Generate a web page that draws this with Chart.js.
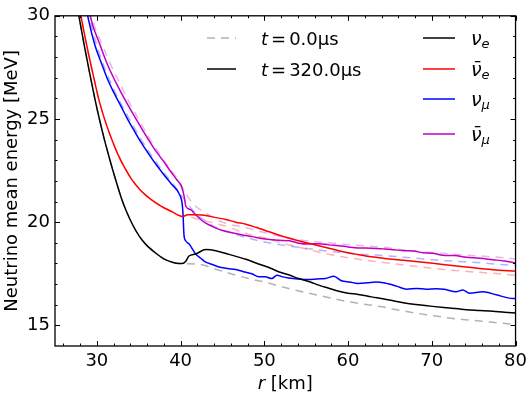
<!DOCTYPE html>
<html>
<head>
<meta charset="utf-8">
<script src="https://cdn.jsdelivr.net/npm/chart.js@4.4.1/dist/chart.umd.min.js"></script>
<style>
  html, body { margin: 0; padding: 0; background: #fff; }
</style>
</head>
<body>
<canvas id="chart" width="532" height="399"></canvas>
<script>
// radius r [km] and neutrino mean energy [MeV]
// t = 320.0 us (solid)
const rNueLate = [27.4, 27.85, 28.5, 29.2, 29.75, 30.3, 30.9, 31.5, 32.1, 32.9, 33.5, 34.3, 35.1, 35.9, 37.1, 38.0, 39.0, 39.85, 40.2, 40.6, 41.0, 41.8, 43.0, 44.2, 45.8, 47.8, 49.5, 50.7, 51.7, 52.9, 54.1, 55.5, 56.5, 57.7, 58.9, 60.0, 61.2, 62.8, 64.3, 65.5, 66.6, 68.4, 70.1, 72.1, 74.1, 75.7, 77.3, 78.7, 80];
const eNueLate = [31.0, 30.0, 28.55, 27.1, 26.0, 25.0, 24.0, 23.1, 22.25, 21.2, 20.55, 19.85, 19.3, 18.9, 18.48, 18.22, 18.06, 18.0, 18.0, 18.1, 18.36, 18.46, 18.67, 18.62, 18.44, 18.2, 17.95, 17.78, 17.6, 17.45, 17.27, 17.1, 16.95, 16.8, 16.65, 16.56, 16.5, 16.38, 16.28, 16.18, 16.1, 16.0, 15.92, 15.84, 15.76, 15.72, 15.68, 15.63, 15.6];

const rNuebLate = [27.7, 28.1, 28.8, 29.55, 30.2, 30.94, 31.6, 32.5, 33.3, 34.2, 35.1, 36.0, 37.0, 38.0, 39.0, 39.85, 40.24, 40.84, 41.5, 42.8, 44.2, 45.4, 46.6, 47.8, 49.0, 50.1, 51.7, 53.0, 54.1, 55.3, 56.5, 57.7, 58.9, 60.0, 61.2, 62.8, 64.4, 66.6, 68.95, 71.3, 74.1, 77.3, 80];
const eNuebLate = [31.0, 30.0, 28.55, 27.15, 26.0, 24.97, 24.2, 23.3, 22.65, 22.05, 21.6, 21.25, 20.95, 20.7, 20.5, 20.32, 20.27, 20.36, 20.36, 20.34, 20.22, 20.13, 20.0, 19.9, 19.75, 19.6, 19.38, 19.22, 19.1, 18.98, 18.86, 18.74, 18.62, 18.52, 18.43, 18.32, 18.24, 18.16, 18.06, 17.95, 17.83, 17.7, 17.63];

const rNumuLate = [28.5, 28.9, 29.75, 30.5, 31.2, 32.0, 32.9, 33.7, 34.5, 35.3, 36.2, 37.1, 38.0, 38.9, 39.85, 40.2, 40.3, 40.4, 40.6, 41.0, 41.8, 42.4, 43.0, 43.8, 44.6, 45.6, 46.6, 47.5, 48.5, 49.35, 50.1, 50.9, 51.5, 52.2, 52.9, 54.0, 55.3, 56.3, 57.3, 58.3, 59.2, 60.2, 61.2, 62.3, 63.3, 64.4, 65.8, 67.0, 68.2, 69.35, 70.5, 71.5, 72.9, 73.7, 74.5, 76.1, 77.7, 79.25, 80];
const eNumuLate = [30.9, 30.0, 28.6, 27.75, 27.0, 26.3, 25.6, 24.97, 24.4, 23.85, 23.3, 22.78, 22.3, 21.85, 21.35, 20.85, 20.3, 19.4, 19.1, 18.95, 18.46, 18.25, 18.06, 17.95, 17.83, 17.75, 17.71, 17.6, 17.5, 17.35, 17.35, 17.27, 17.43, 17.35, 17.3, 17.25, 17.22, 17.25, 17.27, 17.38, 17.16, 17.1, 17.03, 17.06, 17.1, 17.05, 16.9, 16.75, 16.79, 16.75, 16.78, 16.75, 16.63, 16.71, 16.56, 16.63, 16.48, 16.32, 16.3];

const rNumubLate = [28.8, 29.2, 30.35, 31.3, 32.3, 33.4, 34.5, 35.7, 36.88, 37.9, 38.86, 39.5, 40.13, 40.4, 40.64, 41.24, 41.6, 42.4, 43.0, 44.0, 45.0, 46.0, 47.0, 48.5, 50.1, 51.7, 53.0, 54.1, 55.3, 56.5, 57.7, 58.9, 60.0, 61.2, 62.8, 64.4, 65.5, 66.6, 67.8, 68.95, 70.1, 71.3, 72.7, 74.1, 75.7, 77.3, 78.7, 80];
const eNumubLate = [31.0, 30.0, 28.62, 27.6, 26.75, 25.9, 25.13, 24.3, 23.54, 22.98, 22.43, 22.08, 21.71, 21.3, 20.76, 20.6, 20.44, 20.13, 19.95, 19.75, 19.6, 19.5, 19.41, 19.3, 19.18, 19.12, 19.1, 18.98, 18.94, 18.96, 18.9, 18.86, 18.8, 18.75, 18.74, 18.7, 18.66, 18.62, 18.6, 18.52, 18.5, 18.4, 18.38, 18.3, 18.25, 18.18, 18.12, 18.02];

// t = 0.0 us (dashed, faded)
const rNueEarly = [27.4, 27.85, 28.5, 29.2, 29.75, 30.3, 30.9, 31.5, 32.1, 32.9, 33.5, 34.3, 35.1, 35.9, 37.1, 38.0, 39.0, 39.85, 42.0, 44.0, 46.0, 48.0, 50.0, 52.0, 54.0, 56.0, 58.0, 60.0, 62.0, 64.0, 66.0, 68.0, 70.0, 72.0, 74.0, 76.0, 78.0, 80.0];
const eNueEarly = [31.0, 30.0, 28.55, 27.1, 26.0, 25.0, 24.0, 23.1, 22.25, 21.2, 20.55, 19.85, 19.3, 18.9, 18.48, 18.22, 18.06, 18.0, 17.97, 17.75, 17.5, 17.28, 17.1, 16.88, 16.68, 16.5, 16.32, 16.15, 16.02, 15.9, 15.74, 15.6, 15.48, 15.36, 15.27, 15.2, 15.12, 15.05];

const rNuebEarly = [27.7, 28.1, 28.8, 29.55, 30.2, 30.94, 31.6, 32.5, 33.3, 34.2, 35.1, 36.0, 37.0, 38.0, 39.0, 39.85, 41.0, 42.0, 43.0, 44.2, 45.4, 46.8, 48.2, 50.0, 52.0, 54.0, 56.0, 58.0, 60.0, 62.0, 64.0, 66.0, 68.0, 70.0, 72.0, 74.0, 76.0, 78.0, 80.0];
const eNuebEarly = [31.0, 30.0, 28.55, 27.15, 26.0, 24.97, 24.2, 23.3, 22.65, 22.05, 21.6, 21.25, 20.95, 20.7, 20.5, 20.32, 20.26, 20.15, 20.05, 19.93, 19.81, 19.6, 19.41, 19.25, 19.0, 18.8, 18.6, 18.42, 18.28, 18.16, 18.06, 17.96, 17.86, 17.77, 17.68, 17.62, 17.56, 17.5, 17.43];

const rNumuEarly = [28.7, 29.1, 30.0, 31.0, 32.0, 33.0, 34.0, 35.0, 36.0, 37.0, 38.0, 39.0, 40.0, 41.0, 42.0, 43.0, 44.0, 45.4, 47.0, 49.35, 52.0, 54.1, 56.5, 58.9, 61.5, 64.4, 66.6, 69.0, 71.3, 74.0, 76.1, 78.0, 80];
const eNumuEarly = [31.0, 30.0, 28.55, 27.4, 26.45, 25.65, 24.92, 24.2, 23.55, 22.95, 22.4, 21.9, 21.35, 20.8, 20.35, 20.05, 19.8, 19.57, 19.35, 19.1, 18.9, 18.78, 18.65, 18.54, 18.45, 18.38, 18.3, 18.22, 18.14, 18.08, 18.02, 17.96, 17.9];

const rNumubEarly = [29.0, 29.4, 30.7, 31.7, 32.7, 33.8, 34.9, 36.3, 37.5, 38.7, 39.85, 40.6, 41.6, 43.0, 45.0, 47.8, 50.1, 53.3, 57.3, 61.0, 64.4, 65.8, 68.5, 72.1, 76.9, 80];
const eNumubEarly = [31.0, 30.0, 28.54, 27.6, 26.75, 25.85, 25.05, 24.05, 23.3, 22.6, 21.95, 21.4, 20.85, 20.45, 20.0, 19.73, 19.49, 19.2, 19.01, 18.88, 18.78, 18.7, 18.58, 18.46, 18.33, 18.22];

// ticks
const xMajor = [30, 40, 50, 60, 70, 80];
const xMinor = [26, 28, 32, 34, 36, 38, 42, 44, 46, 48, 52, 54, 56, 58, 62, 64, 66, 68, 72, 74, 76, 78];
const yMajor = [15, 20, 25, 30];
const yMinor = [16, 17, 18, 19, 21, 22, 23, 24, 26, 27, 28, 29];

const FONT = '"DejaVu Sans", sans-serif';

const zip = (r, e) => r.map((v, i) => ({x: v, y: e[i]}));
const line = (r, e, color, dashed) => ({
  data: zip(r, e),
  borderColor: color,
  borderWidth: 1.5,
  borderDash: dashed ? [8, 6] : [],
  pointRadius: 0,
  fill: false,
  cubicInterpolationMode: 'monotone'
});

// write pieces of text one after another (italic, subscripts)
function textRun(ctx, x, y, parts) {
  parts.forEach(p => {
    ctx.font = (p.i ? 'italic ' : '') + (p.s || 18) + 'px ' + FONT;
    x += p.gap || 0;
    ctx.fillText(p.t, x, y + (p.dy || 0));
    x += ctx.measureText(p.t).width;
  });
}

const decor = {
  id: 'decor',
  afterDatasetsDraw(chart) {
    const {ctx, chartArea: a, scales: {x, y}} = chart;
    ctx.save();
    ctx.strokeStyle = '#000';
    ctx.lineWidth = 1;
    ctx.beginPath();
    const tx = (v, len) => {
      const p = Math.round(x.getPixelForValue(v)) + 0.5;
      ctx.moveTo(p, a.bottom); ctx.lineTo(p, a.bottom - len);
      ctx.moveTo(p, a.top); ctx.lineTo(p, a.top + len);
    };
    const ty = (v, len) => {
      const p = Math.round(y.getPixelForValue(v)) + 0.5;
      ctx.moveTo(a.left, p); ctx.lineTo(a.left + len, p);
      ctx.moveTo(a.right, p); ctx.lineTo(a.right - len, p);
    };
    xMinor.forEach(v => tx(v, 2.5));
    xMajor.forEach(v => tx(v, 5));
    yMinor.forEach(v => ty(v, 2.5));
    yMajor.forEach(v => ty(v, 5));
    ctx.stroke();
    ctx.lineWidth = 1.3;
    ctx.strokeRect(a.left, a.top, a.right - a.left, a.bottom - a.top);
    ctx.restore();
  },
  afterDraw(chart) {
    const {ctx, chartArea: a} = chart;
    ctx.save();
    ctx.fillStyle = '#000';
    ctx.textBaseline = 'alphabetic';

    // axis titles
    ctx.font = '18px ' + FONT;
    ctx.textAlign = 'center';
    ctx.save();
    ctx.translate(17, (a.top + a.bottom) / 2);
    ctx.rotate(-Math.PI / 2);
    ctx.fillText('Neutrino mean energy [MeV]', 0, 0);
    ctx.restore();
    ctx.textAlign = 'left';
    ctx.font = '18px ' + FONT;
    const wr = ctx.measureText(' [km]').width;
    ctx.font = 'italic 18px ' + FONT;
    const wi = ctx.measureText('r').width;
    textRun(ctx, (a.left + a.right) / 2 - (wr + wi) / 2, 389, [{t: 'r', i: true}, {t: ' [km]'}]);

    // legend, left column: time
    ctx.lineWidth = 1.5;
    ctx.strokeStyle = 'rgba(0,0,0,0.3)';
    ctx.setLineDash([8, 6]);
    ctx.beginPath(); ctx.moveTo(207, 38); ctx.lineTo(236, 38); ctx.stroke();
    ctx.setLineDash([]);
    ctx.strokeStyle = '#000';
    ctx.beginPath(); ctx.moveTo(207, 69); ctx.lineTo(236, 69); ctx.stroke();
    textRun(ctx, 261, 45, [{t: 't', i: true}, {t: '=', gap: 3}, {t: '0.0μs', gap: 3}]);
    textRun(ctx, 261, 76, [{t: 't', i: true}, {t: '=', gap: 3}, {t: '320.0μs', gap: 3}]);

    // legend, right column: flavour
    const rows = [
      {c: '#000000', y: 38, nu: 'ν', sub: 'e'},
      {c: '#ff0000', y: 69, nu: 'ν\u0304', sub: 'e'},
      {c: '#0000ff', y: 99, nu: 'ν', sub: 'μ'},
      {c: '#bf00bf', y: 134, nu: 'ν\u0304', sub: 'μ'}
    ];
    rows.forEach(row => {
      ctx.strokeStyle = row.c;
      ctx.beginPath(); ctx.moveTo(423, row.y); ctx.lineTo(455, row.y); ctx.stroke();
      textRun(ctx, 471, row.y + 7, [{t: row.nu, i: true, s: 19}, {t: row.sub, i: true, s: 13, dy: 3}]);
    });
    ctx.restore();
  }
};

new Chart(document.getElementById('chart'), {
  type: 'line',
  data: {
    datasets: [
      line(rNueLate, eNueLate, '#000000', false),
      line(rNuebLate, eNuebLate, '#ff0000', false),
      line(rNumuLate, eNumuLate, '#0000ff', false),
      line(rNumubLate, eNumubLate, '#bf00bf', false),
      line(rNueEarly, eNueEarly, 'rgba(0,0,0,0.3)', true),
      line(rNuebEarly, eNuebEarly, 'rgba(255,0,0,0.3)', true),
      line(rNumuEarly, eNumuEarly, 'rgba(0,0,255,0.3)', true),
      line(rNumubEarly, eNumubEarly, 'rgba(191,0,191,0.3)', true)
    ]
  },
  options: {
    responsive: false,
    animation: false,
    devicePixelRatio: 1,
    layout: {padding: {top: 11, right: 14, left: 0, bottom: 0}},
    plugins: {legend: {display: false}, tooltip: {enabled: false}},
    scales: {
      x: {
        type: 'linear',
        min: 25,
        max: 80,
        afterBuildTicks: s => { s.ticks = xMajor.map(v => ({value: v})); },
        afterFit: s => { s.height = 53; },
        grid: {display: false, drawTicks: false},
        border: {display: false},
        ticks: {color: '#000', font: {family: 'DejaVu Sans', size: 18}, padding: 5, maxRotation: 0}
      },
      y: {
        type: 'linear',
        min: 14,
        max: 30,
        afterBuildTicks: s => { s.ticks = yMajor.map(v => ({value: v})); },
        afterFit: s => { s.width = 55; },
        grid: {display: false, drawTicks: false},
        border: {display: false},
        ticks: {color: '#000', font: {family: 'DejaVu Sans', size: 18}, padding: 5}
      }
    }
  },
  plugins: [decor]
});
</script>
</body>
</html>
